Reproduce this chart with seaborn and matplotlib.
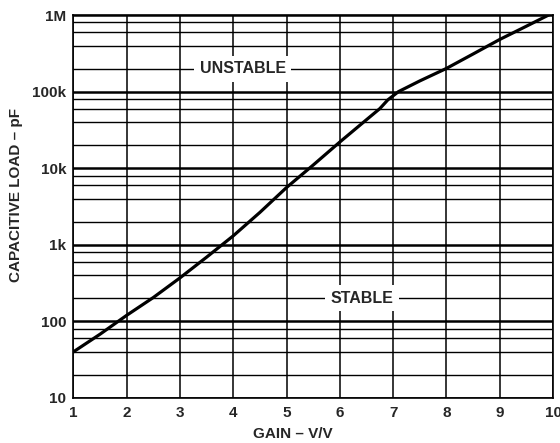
import matplotlib
matplotlib.use('Agg')
import matplotlib.pyplot as plt
import matplotlib.ticker as mticker
import numpy as np
import pandas as pd
import seaborn as sns

# curve (gain in V/V, capacitive load in pF)
gain = [1, 1.5, 2, 2.5, 3, 3.5, 4, 4.5, 5, 5.5, 6, 6.5, 6.75, 6.9, 7.1,
        7.5, 8, 8.5, 9, 9.5, 10]
cload = [40, 68, 120, 205, 370, 690, 1310, 2650, 5600, 11000, 22000, 43000,
         60000, 78000, 100000, 138000, 201000, 310000, 480000, 715000, 1070000]

x_ticks = [1, 2, 3, 4, 5, 6, 7, 8, 9, 10]
y_ticks = [10, 100, 1000, 10000, 100000, 1000000]
y_labels = ['10', '100', '1k', '10k', '100k', '1M']

sns.set_style('white')
plt.rcParams['font.family'] = ['Liberation Sans', 'DejaVu Sans']
plt.rcParams['font.weight'] = 'bold'
plt.rcParams['font.size'] = 11

df = pd.DataFrame({'gain': gain, 'cload': cload})

fig = plt.figure(figsize=(5.6, 4.43), dpi=100)
ax = fig.add_axes([0.131, 0.1016, 0.8565, 0.8644])

sns.lineplot(data=df, x='gain', y='cload', color='black', lw=2.3, ax=ax,
             zorder=3)

ax.set_yscale('log')
ax.set_xlim(1, 10)
ax.set_ylim(10, 1e6)
ax.set_xticks(x_ticks)
ax.set_xticklabels([str(v) for v in x_ticks])
ax.set_yticks(y_ticks)
ax.set_yticklabels(y_labels)
ax.yaxis.set_minor_locator(mticker.LogLocator(base=10, subs=[2, 4, 6, 8]))
ax.yaxis.set_minor_formatter(mticker.NullFormatter())

ax.grid(axis='x', which='major', color='black', lw=1.1)
ax.grid(axis='y', which='major', color='black', lw=1.8)
ax.grid(axis='y', which='minor', color='black', lw=1.0)
ax.tick_params(axis='both', which='both', length=0)
ax.tick_params(axis='y', pad=5)
ax.tick_params(axis='x', pad=6)
for s in ax.spines.values():
    s.set_color('black')
    s.set_linewidth(1.2)

ax.set_xlabel('GAIN – V/V', fontweight='bold')
ax.set_ylabel('CAPACITIVE LOAD – pF', fontweight='bold')
ax.xaxis.set_label_coords(0.458, -0.075)
ax.yaxis.set_label_coords(-0.104, 0.53)

box = dict(boxstyle='square,pad=0.35', fc='white', ec='none')
ax.text(4.18, 2e5, 'UNSTABLE', ha='center', va='center', fontweight='bold',
        fontsize=11.5, bbox=box, zorder=4)
ax.text(6.42, 200, 'STABLE', ha='center', va='center', fontweight='bold',
        fontsize=11.5, bbox=box, zorder=4)

fig.savefig('out.png', dpi=100)
